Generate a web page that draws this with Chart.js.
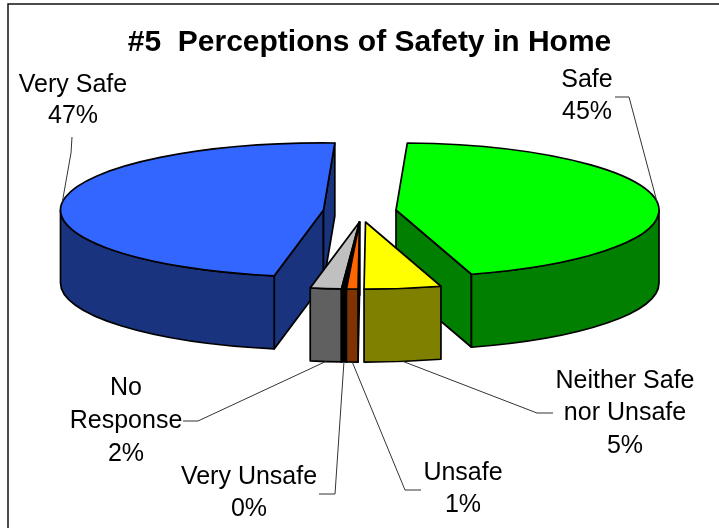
<!DOCTYPE html>
<html lang="en">
<head>
    <meta charset="UTF-8">
    <title>#5 Perceptions of Safety in Home</title>
    <script src="https://cdn.jsdelivr.net/npm/chart.js"></script>
    <style>
        html, body { margin: 0; padding: 0; background: white; overflow: hidden; }
        canvas { display: block; }
    </style>
</head>
<body>
    <canvas id="pieChart" width="719" height="528"></canvas>
    <script>
        const titleText = '#5  Perceptions of Safety in Home';
        const categories = ['Very Safe', 'Safe', 'Neither Safe nor Unsafe', 'Unsafe', 'Very Unsafe', 'No Response'];
        const percents = [47.49, 44.5, 4.7, 0.7, 0.3, 1.9];
        const topColors = ['#3366ff', '#00ff00', '#ffff00', '#ff6600', '#000000', '#c0c0c0'];
        const sideColors = ['#1a337f', '#007f00', '#7f7f00', '#7f3300', '#000000', '#606060'];

        // how the picture is laid out, not data
        const squash = 0.255;
        const depth = 73;
        const pieRadius = 263;
        const explodeX = [-36, 36.5, 6, 0, 0, 0];
        const explodeY = [0, 0, 12, 12, 12, 12];
        const drawOrder = [0, 1, 5, 4, 3, 2];
        const labelLines = [['Very Safe'], ['Safe'], ['Neither Safe', 'nor Unsafe'], ['Unsafe'], ['Very Unsafe'], ['No', 'Response']];
        const labelX = [73, 587, 625, 463, 249, 126];
        const labelY = [[92, 123], [87, 119], [388, 420, 453], [480, 512], [484, 516], [395, 428, 461]];
        const leaderElbows = [
            [[72, 137], [71, 153]],
            [[615, 97], [629, 97]],
            [[553, 413], [537, 413]],
            [[421, 490], [405, 490]],
            [[319, 494], [335, 494]],
            [[183, 421], [198, 421]]
        ];

        const TAU = Math.PI * 2;

        function sliceGeometry(chart, i) {
            const arc = chart.getDatasetMeta(0).data[i];
            const p = arc.getProps(['x', 'y', 'startAngle', 'endAngle', 'outerRadius']);
            return {
                x: p.x + explodeX[i],
                y: p.y + explodeY[i],
                a: p.startAngle,
                b: p.endAngle,
                r: p.outerRadius
            };
        }

        function paintPath(ctx, fill) {
            ctx.fillStyle = fill;
            ctx.fill();
            ctx.stroke();
        }

        function drawWall(ctx, s, angle, fill) {
            const rimX = s.x + Math.cos(angle) * s.r;
            const rimY = s.y + Math.sin(angle) * s.r * squash;
            ctx.beginPath();
            ctx.moveTo(s.x, s.y);
            ctx.lineTo(rimX, rimY);
            ctx.lineTo(rimX, rimY + depth);
            ctx.lineTo(s.x, s.y + depth);
            ctx.closePath();
            paintPath(ctx, fill);
        }

        // the front part of the rim, only where the slice faces the viewer
        function drawRim(ctx, s, fill) {
            for (let turn = -1; turn <= 1; turn++) {
                const from = Math.max(s.a, turn * TAU);
                const to = Math.min(s.b, turn * TAU + Math.PI);
                if (to <= from) continue;
                ctx.beginPath();
                ctx.ellipse(s.x, s.y, s.r, s.r * squash, 0, from, to);
                ctx.ellipse(s.x, s.y + depth, s.r, s.r * squash, 0, to, from, true);
                ctx.closePath();
                paintPath(ctx, fill);
            }
        }

        const pie3d = {
            id: 'pie3d',
            afterLayout(chart) {
                // title sits a bit right of the pie in the original
                chart.titleBlock.left += 20;
            },
            beforeDraw(chart) {
                const ctx = chart.ctx;
                ctx.save();
                ctx.strokeStyle = '#111111';
                ctx.lineWidth = 1.5;
                ctx.strokeRect(8, 4, 800, 800);
                ctx.restore();
            },
            beforeDatasetsDraw(chart) {
                const ctx = chart.ctx;
                ctx.save();
                ctx.strokeStyle = '#000000';
                ctx.lineWidth = 1.7;
                ctx.lineJoin = 'round';

                drawOrder.forEach(i => {
                    const s = sliceGeometry(chart, i);
                    if (Math.cos(s.a) < 0) drawWall(ctx, s, s.a, sideColors[i]);
                    if (Math.cos(s.b) > 0) drawWall(ctx, s, s.b, sideColors[i]);
                    drawRim(ctx, s, sideColors[i]);
                });

                drawOrder.forEach(i => {
                    const s = sliceGeometry(chart, i);
                    ctx.beginPath();
                    ctx.moveTo(s.x, s.y);
                    ctx.ellipse(s.x, s.y, s.r, s.r * squash, 0, s.a, s.b);
                    ctx.closePath();
                    paintPath(ctx, topColors[i]);
                });

                // leader lines go to the middle of each slice's rim
                ctx.strokeStyle = '#333333';
                ctx.lineWidth = 1;
                categories.forEach((name, i) => {
                    const s = sliceGeometry(chart, i);
                    const mid = (s.a + s.b) / 2;
                    const endX = s.x + Math.cos(mid) * s.r;
                    let endY = s.y + Math.sin(mid) * s.r * squash;
                    if (Math.sin(mid) > 0) endY += depth;
                    ctx.beginPath();
                    ctx.moveTo(leaderElbows[i][0][0], leaderElbows[i][0][1]);
                    ctx.lineTo(leaderElbows[i][1][0], leaderElbows[i][1][1]);
                    ctx.lineTo(endX, endY);
                    ctx.stroke();
                });

                ctx.fillStyle = '#000000';
                ctx.font = '25px "Liberation Sans", Arial, sans-serif';
                ctx.textAlign = 'center';
                ctx.textBaseline = 'alphabetic';
                categories.forEach((name, i) => {
                    const lines = labelLines[i].concat(Math.round(percents[i]) + '%');
                    lines.forEach((line, n) => ctx.fillText(line, labelX[i], labelY[i][n]));
                });
                ctx.restore();
                return false; // slices are already painted, flattened
            }
        };

        new Chart(document.getElementById('pieChart'), {
            type: 'pie',
            data: {
                labels: categories,
                datasets: [{
                    data: percents,
                    backgroundColor: topColors,
                    borderWidth: 0,
                    radius: pieRadius,
                    rotation: 190.8
                }]
            },
            options: {
                responsive: false,
                animation: false,
                layout: { padding: { bottom: 168.5 } },
                plugins: {
                    legend: { display: false },
                    tooltip: { enabled: false },
                    title: {
                        display: true,
                        text: titleText,
                        color: '#000000',
                        font: { family: '"Liberation Sans", Arial, sans-serif', size: 30, weight: 'bold' },
                        padding: { top: 24.5, bottom: 0 }
                    }
                }
            },
            plugins: [pie3d]
        });
    </script>
</body>
</html>
